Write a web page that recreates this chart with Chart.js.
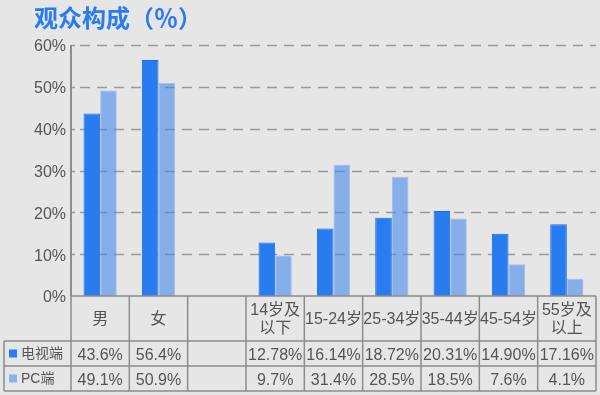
<!DOCTYPE html>
<html><head><meta charset="utf-8">
<script src="https://cdn.jsdelivr.net/npm/chart.js@4/dist/chart.umd.min.js"></script>
<style>html,body{margin:0;padding:0;background:#e6e6e6;}#wrap{width:600px;height:395px;position:relative;}</style>
</head><body><div id="wrap"><canvas id="c" width="600" height="395"></canvas></div>
<script>
const title = "观众构成（％）";
const categories = [["男"], ["女"], [""], ["14岁及", "以下"], ["15-24岁"], ["25-34岁"], ["35-44岁"], ["45-54岁"], ["55岁及", "以上"]];
const seriesNames = ["电视端", "PC端"];
const tvValues = [43.6, 56.4, null, 12.78, 16.14, 18.72, 20.31, 14.90, 17.16];
const pcValues = [49.1, 50.9, null, 9.7, 31.4, 28.5, 18.5, 7.6, 4.1];
const tvLabels = ["43.6%", "56.4%", "", "12.78%", "16.14%", "18.72%", "20.31%", "14.90%", "17.16%"];
const pcLabels = ["49.1%", "50.9%", "", "9.7%", "31.4%", "28.5%", "18.5%", "7.6%", "4.1%"];
const yTicks = [0, 10, 20, 30, 40, 50, 60];

const CJK = '"Noto Sans CJK SC", sans-serif';
const FONT = '"Liberation Sans", "Noto Sans CJK SC", sans-serif';
const TV_COLOR = 'rgb(40,124,240)', PC_COLOR = 'rgba(62,132,236,0.57)';
const LINE = '#8c8c8c', TEXT = '#555555';

const tablePlugin = {
  id: 'tablePlugin',
  beforeDraw(chart) {
    const ctx = chart.ctx;
    ctx.save(); ctx.fillStyle = '#e6e6e6'; ctx.fillRect(0, 0, chart.width, chart.height); ctx.restore();
  },
  beforeDatasetsDraw(chart) {
    const ctx = chart.ctx, ys = chart.scales.y, ca = chart.chartArea;
    ctx.save();
    ctx.strokeStyle = '#9a9a9a'; ctx.lineWidth = 1.5;
    yTicks.forEach(v => {
      if (v === 0) return;
      const y = Math.round(ys.getPixelForValue(v)) + 0.5;
      ctx.setLineDash([]);
      ctx.beginPath(); ctx.moveTo(ca.left, y); ctx.lineTo(ca.left + 4, y); ctx.stroke();
      ctx.setLineDash([10, 7]);
      ctx.beginPath(); ctx.moveTo(ca.left + 9, y); ctx.lineTo(ca.right, y); ctx.stroke();
    });
    ctx.setLineDash([]);
    // y tick labels
    ctx.fillStyle = TEXT; ctx.font = '16px ' + FONT;
    ctx.textAlign = 'right'; ctx.textBaseline = 'middle';
    yTicks.forEach(v => {
      ctx.fillText(v + '%', ca.left - 5, ys.getPixelForValue(v) + 2);
    });
    ctx.restore();
  },
  afterDraw(chart) {
    const ctx = chart.ctx, xs = chart.scales.x, ca = chart.chartArea;
    const left = ca.left, right = ca.right;
    const w = (right - left) / categories.length;
    const rowTop = ca.bottom, catBottom = rowTop + 45, tvBottom = catBottom + 25, pcBottom = tvBottom + 25;
    const legLeft = 4;
    ctx.save();
    // title
    ctx.fillStyle = 'rgb(40,124,240)';
    ctx.font = 'bold 24px ' + CJK;
    ctx.textBaseline = 'middle'; ctx.textAlign = 'left';
    ctx.fillText(title, 34, 18);
    // y axis line
    ctx.strokeStyle = LINE; ctx.lineWidth = 2;
    ctx.beginPath(); ctx.moveTo(left, ca.top); ctx.lineTo(left, rowTop); ctx.stroke();
    // table lines
    ctx.lineWidth = 1.5;
    ctx.beginPath();
    ctx.moveTo(left, rowTop); ctx.lineTo(right, rowTop);
    ctx.moveTo(legLeft, catBottom); ctx.lineTo(right, catBottom);
    ctx.moveTo(legLeft, tvBottom); ctx.lineTo(right, tvBottom);
    ctx.moveTo(legLeft, pcBottom); ctx.lineTo(right, pcBottom);
    ctx.moveTo(legLeft, catBottom); ctx.lineTo(legLeft, pcBottom);
    for (let i = 0; i <= categories.length; i++) {
      const x = left + i * w;
      ctx.moveTo(x, rowTop); ctx.lineTo(x, pcBottom);
    }
    ctx.stroke();
    // category labels
    ctx.fillStyle = TEXT; ctx.textAlign = 'center'; ctx.textBaseline = 'middle';
    ctx.font = '16px ' + FONT;
    categories.forEach((lines, i) => {
      const cx = xs.getPixelForValue(i);
      const cy = (rowTop + catBottom) / 2 + 1;
      const lh = 18;
      lines.forEach((t, j) => {
        ctx.fillText(t, cx, cy + (j - (lines.length - 1) / 2) * lh);
      });
    });
    // values
    ctx.font = '16px ' + FONT;
    tvLabels.forEach((t, i) => ctx.fillText(t, xs.getPixelForValue(i), (catBottom + tvBottom) / 2 + 2));
    pcLabels.forEach((t, i) => ctx.fillText(t, xs.getPixelForValue(i), (tvBottom + pcBottom) / 2 + 2));
    // legend
    ctx.textAlign = 'left';
    ctx.font = '14px ' + FONT;
    ctx.fillStyle = TV_COLOR; ctx.fillRect(9, (catBottom + tvBottom) / 2 - 4, 8, 8);
    ctx.fillStyle = 'rgb(140,179,235)'; ctx.fillRect(9, (tvBottom + pcBottom) / 2 - 4, 8, 8);
    ctx.fillStyle = TEXT;
    ctx.fillText(seriesNames[0], 21, (catBottom + tvBottom) / 2 + 1);
    ctx.fillText(seriesNames[1], 21, (tvBottom + pcBottom) / 2 + 1);
    ctx.restore();
  }
};

new Chart(document.getElementById('c'), {
  type: 'bar',
  data: {
    labels: categories.map(c => c.join('')),
    datasets: [
      { label: seriesNames[0], data: tvValues, backgroundColor: TV_COLOR, borderColor: 'rgb(22,110,238)', borderWidth: 1 },
      { label: seriesNames[1], data: pcValues, backgroundColor: PC_COLOR, borderColor: 'rgba(120,170,240,0.6)', borderWidth: 1 }
    ]
  },
  options: {
    responsive: false, animation: false,
    layout: { padding: { top: 45, bottom: 99, left: 0, right: 4 } },
    datasets: { bar: { categoryPercentage: 0.57, barPercentage: 1 } },
    plugins: { legend: { display: false }, tooltip: { enabled: false }, title: { display: false } },
    scales: {
      x: { display: false },
      y: {
        min: 0, max: 60,
        afterFit(s) { s.width = 71; },
        afterBuildTicks(s) { s.ticks = yTicks.map(v => ({ value: v })); },
        ticks: { display: false },
        grid: { display: false },
        border: { display: false }
      }
    }
  },
  plugins: [tablePlugin]
});
</script></body></html>
